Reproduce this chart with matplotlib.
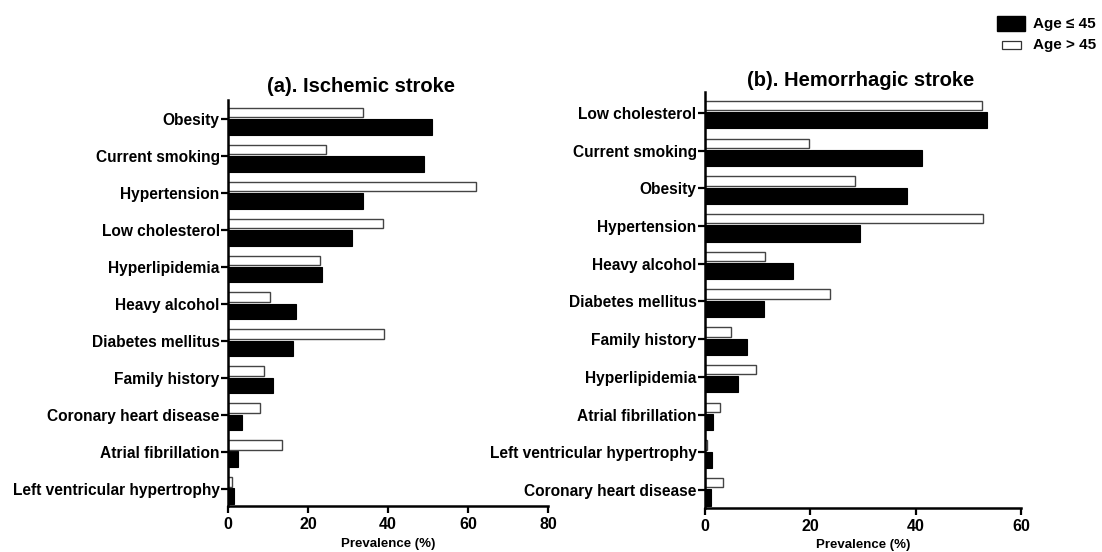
import numpy as np
import matplotlib.pyplot as plt
from matplotlib.patches import Rectangle

plt.rcParams['font.family'] = ['Liberation Sans', 'DejaVu Sans']
plt.rcParams['font.weight'] = 'bold'

# (a) ischemic stroke
isch_factors = ['Obesity', 'Current smoking', 'Hypertension', 'Low cholesterol',
                'Hyperlipidemia', 'Heavy alcohol', 'Diabetes mellitus',
                'Family history', 'Coronary heart disease', 'Atrial fibrillation',
                'Left ventricular hypertrophy']
isch_young = [51.1, 49.1, 33.7, 31.0, 23.6, 17.0, 16.3, 11.3, 3.6, 2.5, 1.5]
isch_old = [33.7, 24.6, 62.1, 38.7, 23.0, 10.6, 39.0, 9.0, 8.1, 13.6, 1.1]

# (b) hemorrhagic stroke
hem_factors = ['Low cholesterol', 'Current smoking', 'Obesity', 'Hypertension',
               'Heavy alcohol', 'Diabetes mellitus', 'Family history',
               'Hyperlipidemia', 'Atrial fibrillation',
               'Left ventricular hypertrophy', 'Coronary heart disease']
hem_young = [53.6, 41.2, 38.4, 29.5, 16.8, 11.2, 7.9, 6.2, 1.6, 1.4, 1.1]
hem_old = [52.6, 19.8, 28.4, 52.8, 11.4, 23.7, 5.0, 9.7, 2.9, 0.45, 3.5]

fig = plt.figure(figsize=(11.02, 5.52), dpi=100)
ax1 = fig.add_axes([0.2069, 0.0833, 0.2904, 0.7355])
ax2 = fig.add_axes([0.6397, 0.0803, 0.2868, 0.7536])


def draw_panel(ax, factors, young, old, xmax, ylim):
    y = np.arange(len(factors))
    ax.barh(y + 0.2, young, height=0.43, color='black', edgecolor='black', linewidth=0.8)
    ax.barh(y - 0.19, old, height=0.25, color='white', edgecolor='#444444', linewidth=1.0)
    ax.set_yticks(y)
    ax.set_yticklabels(factors, fontsize=11.2, fontweight='bold')
    ax.set_ylim(*ylim)
    ax.set_xlim(0, xmax)
    ax.set_xticks(np.arange(0, xmax + 1, 20))
    ax.tick_params(axis='x', labelsize=11.5, width=1.6, length=5, pad=3)
    ax.tick_params(axis='y', width=1.6, length=5, pad=1)
    for lbl in ax.get_xticklabels():
        lbl.set_fontweight('bold')
    for side in ['top', 'right']:
        ax.spines[side].set_visible(False)
    for side in ['left', 'bottom']:
        ax.spines[side].set_linewidth(1.8)
    ax.set_xlabel('Prevalence (%)', fontsize=9.5, fontweight='bold', labelpad=4)


draw_panel(ax1, isch_factors, isch_young, isch_old, 80, (10.46, -0.52))
draw_panel(ax2, hem_factors, hem_young, hem_old, 60, (10.47, -0.56))

fig.text(361 / 1102, 1 - 87 / 552, '(a). Ischemic stroke', ha='center', va='center',
         fontsize=14.5, fontweight='bold')
fig.text(861 / 1102, 1 - 80 / 552, '(b). Hemorrhagic stroke', ha='center', va='center',
         fontsize=14.5, fontweight='bold')

# legend
W, H = 1102, 552
fig.patches.append(Rectangle((997 / W, 1 - 31 / H), 28 / W, 15 / H, transform=fig.transFigure,
                             facecolor='black', edgecolor='black'))
fig.patches.append(Rectangle((1002 / W, 1 - 49 / H), 19 / W, 8 / H, transform=fig.transFigure,
                             facecolor='white', edgecolor='#333333', linewidth=0.9))
fig.text(1033 / W, 1 - 24 / H, 'Age ≤ 45', fontsize=11, fontweight='bold', va='center')
fig.text(1033 / W, 1 - 45 / H, 'Age > 45', fontsize=11, fontweight='bold', va='center')

fig.savefig('out.png', dpi=100)
